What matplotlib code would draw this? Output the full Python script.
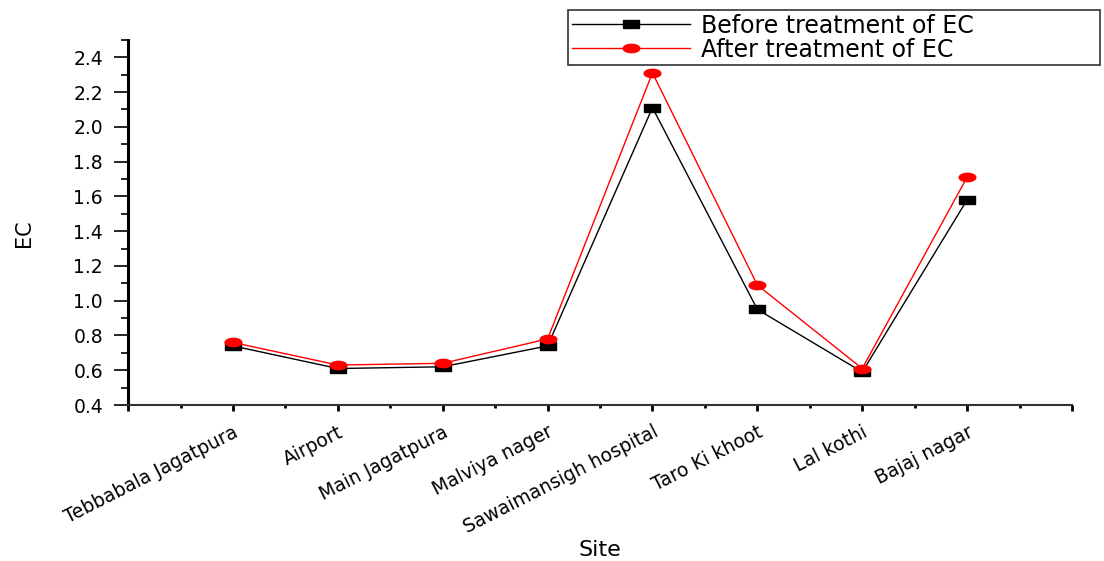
import numpy as np
import matplotlib
matplotlib.use('Agg')
import matplotlib.pyplot as plt
from matplotlib.ticker import MultipleLocator, FormatStrFormatter

plt.rcParams['font.family'] = ['DejaVu Sans']

sites = ['Tebbabala Jagatpura', 'Airport', 'Main Jagatpura', 'Malviya nager',
         'Sawaimansigh hospital', 'Taro Ki khoot', 'Lal kothi', 'Bajaj nagar']
ec_before = [0.74, 0.61, 0.62, 0.74, 2.11, 0.95, 0.59, 1.58]
ec_after = [0.76, 0.63, 0.64, 0.78, 2.31, 1.09, 0.61, 1.71]

# wide markers: flat rectangle and flat ellipse
rect = [(-1, -0.47), (1, -0.47), (1, 0.47), (-1, 0.47), (-1, -0.47)]
t = np.linspace(0, 2 * np.pi, 40)
ellipse = list(zip(np.cos(t), 0.5 * np.sin(t)))

fig = plt.figure(figsize=(11.04, 5.61), dpi=100)
ax = fig.add_axes([0.116, 0.278, 0.855, 0.651])

x = np.arange(1, len(sites) + 1)
ax.plot(x, ec_before, color='black', lw=1, marker=rect, ms=12,
        mfc='black', mec='black', label='Before treatment of EC')
ax.plot(x, ec_after, color='red', lw=1, marker=ellipse, ms=12,
        mfc='red', mec='red', label='After treatment of EC')

ax.set_xlim(0, 9)
ax.set_ylim(0.4, 2.5)
ax.set_xticks(np.arange(0, 10))
ax.set_xticklabels([''] + sites + [''], rotation=27, ha='right', va='top',
                   rotation_mode='anchor', fontsize=13.5)
ax.xaxis.set_minor_locator(MultipleLocator(0.5))
ax.yaxis.set_major_locator(MultipleLocator(0.2))
ax.yaxis.set_minor_locator(MultipleLocator(0.1))
ax.yaxis.set_major_formatter(FormatStrFormatter('%.1f'))

ax.tick_params(axis='y', which='major', direction='out', length=10, width=1.2,
               labelsize=13.5, pad=8)
ax.tick_params(axis='y', which='minor', direction='out', length=5, width=1.2)
ax.tick_params(axis='x', which='major', direction='out', length=4.5, width=2,
               pad=8)
ax.tick_params(axis='x', which='minor', direction='out', length=2.5, width=2)

ax.spines['top'].set_visible(False)
ax.spines['right'].set_visible(False)
ax.spines['left'].set_linewidth(2.2)
ax.spines['bottom'].set_linewidth(1.5)
ax.spines['bottom'].set_color('#333333')

ax.set_xlabel('Site', fontsize=16)
ax.xaxis.set_label_coords(0.5, -0.37)
ax.set_ylabel('EC', fontsize=15)
ax.yaxis.set_label_coords(-0.1, 0.47)

leg = fig.legend(loc='upper left',
                 bbox_to_anchor=(568 / 1104, 1 - 10 / 561 - 0.01, 532 / 1104, 0.01),
                 mode='expand', fontsize=17, frameon=True, fancybox=False,
                 handlelength=5.0, handletextpad=0.5, borderaxespad=0,
                 labelspacing=0.0, borderpad=0.15)
leg.get_frame().set_edgecolor('black')
leg.get_frame().set_linewidth(1.2)

plt.savefig('out.png', dpi=100)
